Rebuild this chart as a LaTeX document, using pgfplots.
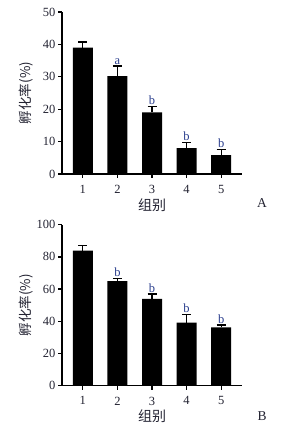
\documentclass[border=0pt]{standalone}
\usepackage{pgfplots}
\pgfplotsset{compat=1.18}
\usepackage{fontspec}
\setmainfont{Liberation Serif}
\newfontfamily\cjk{Noto Sans CJK SC}
\definecolor{lettc}{RGB}{40,60,140}
\definecolor{txt}{RGB}{35,35,50}
\pgfplotsset{
  mybar/.style={
    anchor=south west, scale only axis, width=180pt,
    axis lines=left, axis line style={-, line width=1.5pt, black},
    xmin=0.4, xmax=5.6, xtick={1,2,3,4,5},
    tick align=outside, major tick length=4pt,
    tick style={black, line width=1.3pt},
    ymin=0,
    /pgf/number format/assume math mode=true,
    tick label style={font=\fontsize{12.5}{12.5}\selectfont, text=txt},
    yticklabel style={xshift=1pt},
    xticklabel style={yshift=-3.5pt},
    ylabel={\cjk 孵化率(\%)},
    ylabel style={at={(axis description cs:-0.2,0.5)}, anchor=center, font=\fontsize{13.5}{14}\selectfont, text=txt},
    xlabel={\cjk 组别},
    xlabel style={at={(axis description cs:0.5,0)}, yshift=-31pt, anchor=center, font=\fontsize{14}{14}\selectfont, text=txt},
    clip=false,
  },
  mybars/.style={ybar, bar width=20pt, fill=black, draw=none,
    error bars/.cd, y dir=plus, y explicit,
    error bar style={line width=1.3pt, black},
    error mark options={rotate=90, mark size=4.5pt, line width=1.3pt, black}},
  myletters/.style={draw=none, mark=none, nodes near coords, point meta=explicit symbolic,
    nodes near coords style={anchor=south, text=lettc, inner sep=1.5pt, font=\fontsize{12.5}{12.5}\selectfont}},
}
\begin{document}
\begin{tikzpicture}
\path[use as bounding box] (0pt,0pt) rectangle (285pt,427pt);
\begin{axis}[mybar, at={(62pt,253pt)}, height=162pt, ymax=50, ytick={0,10,20,30,40,50}]
\addplot[mybars] table[x=x, y=y, y error=e] {
x y e
1 39.0 1.7
2 30.2 3.1
3 19.0 1.8
4 8.0 1.8
5 5.8 1.7
};
\addplot[myletters] table[x=x, y=y, meta=l] {
x y l
2 33.3 a
3 20.8 b
4 9.8 b
5 7.5 b
};
\end{axis}
\begin{axis}[mybar, at={(62pt,41.3pt)}, height=161pt, ymax=100, ytick={0,20,40,60,80,100}]
\addplot[mybars] table[x=x, y=y, y error=e] {
x y e
1 83.9 3.1
2 65.0 1.5
3 53.9 3.1
4 39.1 5.0
5 36.3 1.4
};
\addplot[myletters] table[x=x, y=y, meta=l] {
x y l
2 66.5 b
3 57.0 b
4 44.1 b
5 37.7 b
};
\end{axis}
\node[font=\fontsize{13.5}{13.5}\selectfont, text=txt] at (262pt,224pt) {A};
\node[font=\fontsize{13.5}{13.5}\selectfont, text=txt] at (262pt,11.3pt) {B};
\end{tikzpicture}
\end{document}
